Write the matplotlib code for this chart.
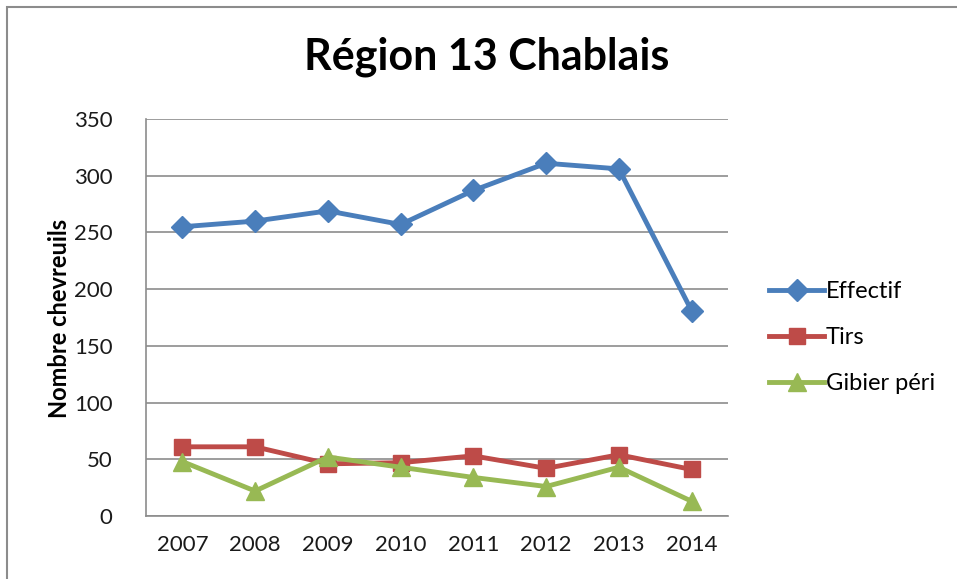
import matplotlib
matplotlib.use("Agg")
import matplotlib.pyplot as plt
from matplotlib.patches import Rectangle

years = ["2007", "2008", "2009", "2010", "2011", "2012", "2013", "2014"]
effectif = [255, 260, 269, 257, 287, 311, 306, 181]
tirs = [61, 61, 46, 47, 53, 42, 54, 41]
gibier = [48, 22, 52, 43, 34, 26, 43, 13]
series_names = ["Effectif", "Tirs", "Gibier péri"]
yticks = [0, 50, 100, 150, 200, 250, 300, 350]

plt.rcParams['font.family'] = ['Lato', 'DejaVu Sans']

W, H = 957, 579
fig = plt.figure(figsize=(W / 100, H / 100), dpi=100)
fig.patch.set_facecolor("white")

# outer chart border
fig.patches.append(Rectangle((7 / W, -0.05), 1.2, (1 - 7 / H) + 0.05, transform=fig.transFigure,
                             fill=False, edgecolor="#8c8c8c", linewidth=1.5))

left, right, top, bottom = 146, 728, 119, 516
ax = fig.add_axes([left / W, 1 - bottom / H, (right - left) / W, (bottom - top) / H])

x = list(range(len(years)))
ax.plot(x, effectif, color="#4a7ebb", lw=3.5, marker="D", ms=11, label=series_names[0], zorder=3)
ax.plot(x, tirs, color="#be4b48", lw=3.5, marker="s", ms=12, label=series_names[1], zorder=3)
ax.plot(x, gibier, color="#98b954", lw=3.5, marker="^", ms=13, label=series_names[2], zorder=4)

ax.set_xlim(-0.5, len(years) - 0.5)
ax.set_ylim(0, 350)
ax.set_yticks(yticks)
ax.set_yticklabels([str(v) for v in yticks])
ax.set_xticks(x)
ax.set_xticklabels(years)
ax.tick_params(axis="both", length=0, labelsize=16, colors="#1a1a1a")
ax.tick_params(axis="y", pad=24)
ax.tick_params(axis="x", pad=14)
ax.grid(axis="y", color="#8c8c8c", lw=1.2)
ax.set_axisbelow(True)
for s in ["top", "right"]:
    ax.spines[s].set_visible(False)
for s in ["left", "bottom"]:
    ax.spines[s].set_color("#8c8c8c")
    ax.spines[s].set_linewidth(1.2)

fig.text(487 / W, 1 - 57 / H, "Région 13 Chablais", ha="center", va="center",
         fontsize=31, fontweight="bold", color="black")
fig.text(60 / W, 1 - 318 / H, "Nombre chevreuils", ha="center", va="center",
         rotation=90, fontsize=17, fontweight="bold", color="black")

leg = fig.legend(loc="upper left", bbox_to_anchor=(760 / W, 1 - 272 / H), frameon=False,
                 fontsize=17, handlelength=2.3, handletextpad=0.1, labelspacing=1.05,
                 borderaxespad=0)

fig.savefig("out.png", dpi=100)
